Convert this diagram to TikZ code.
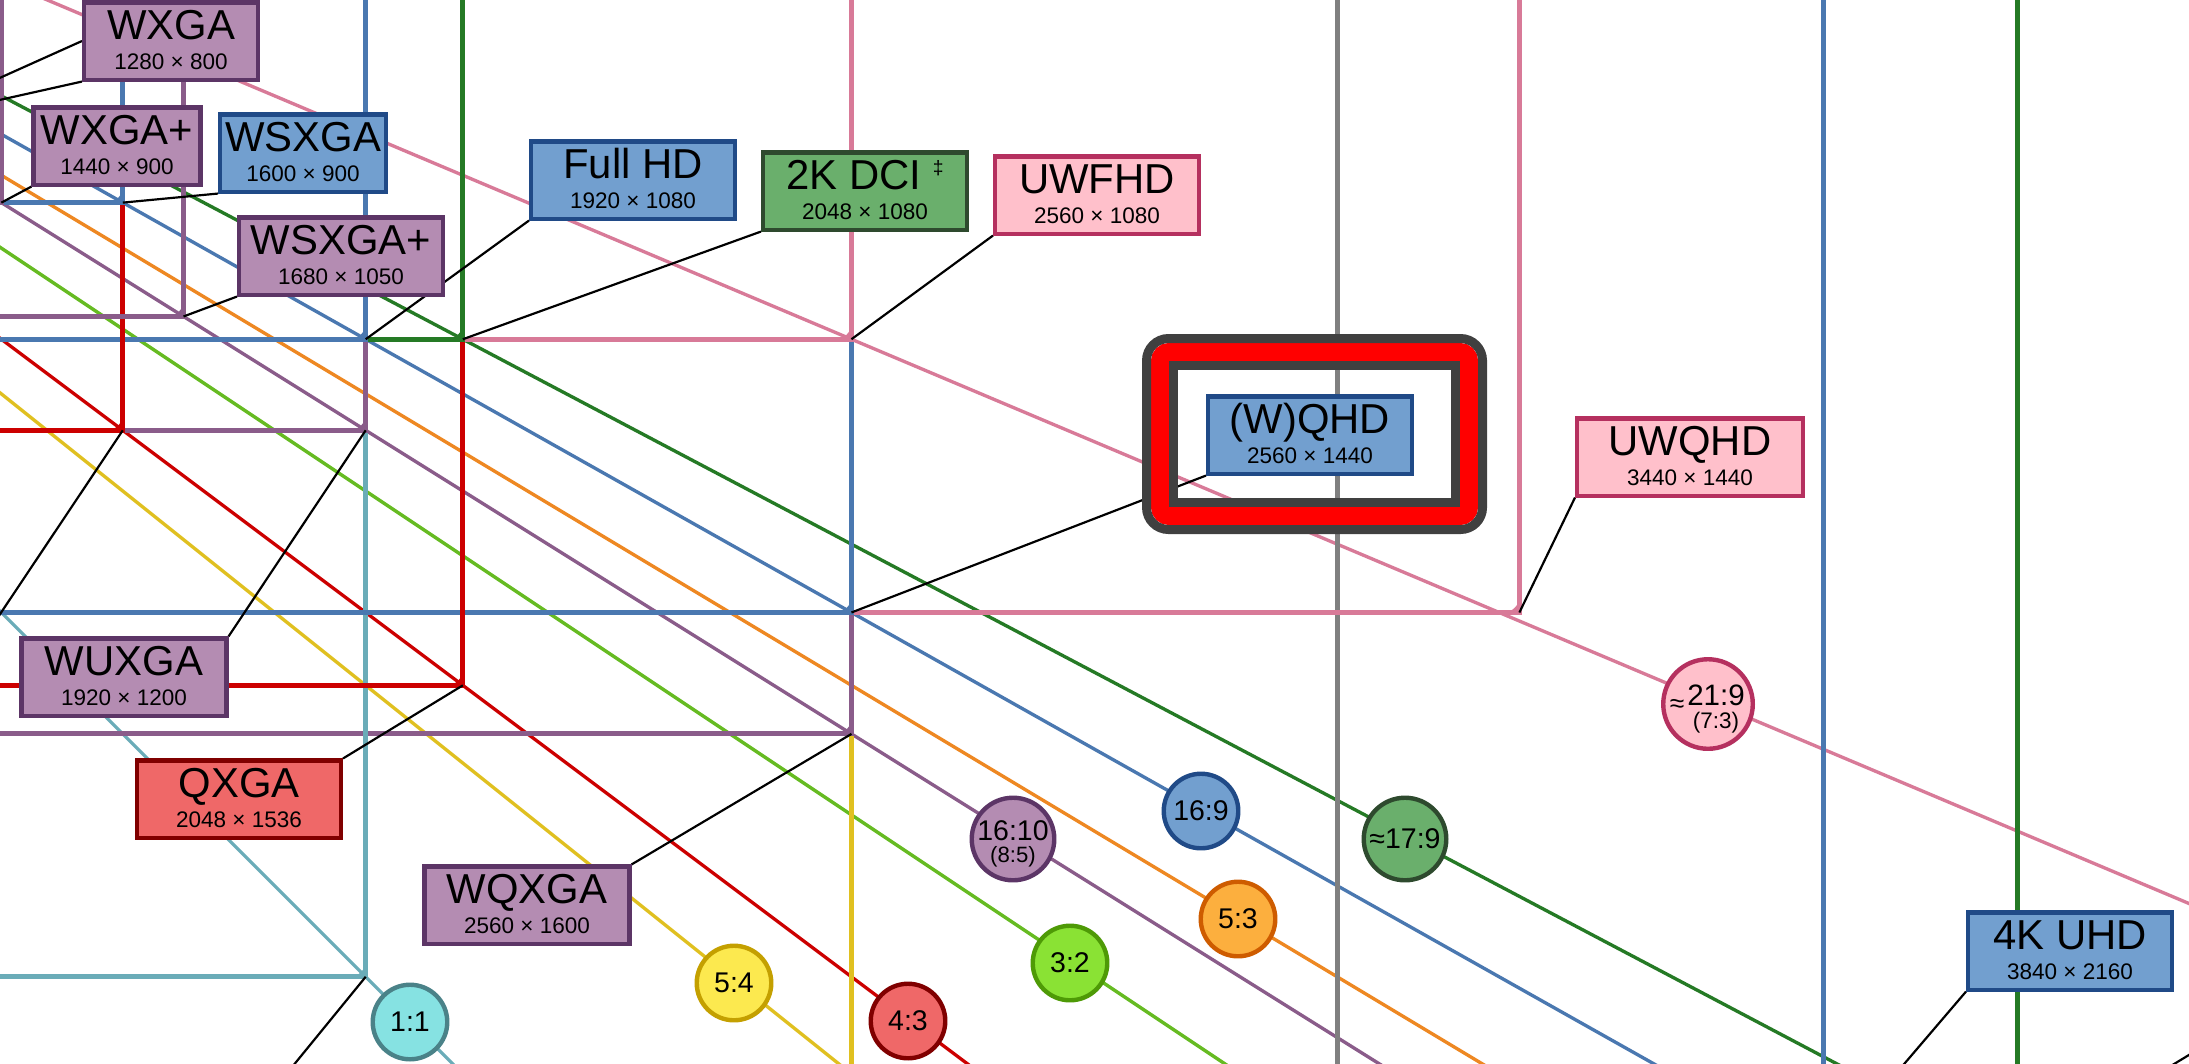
\documentclass[tikz,border=0pt]{standalone}
\usepackage{fontspec}
\setmainfont{Liberation Sans}
\pgfdeclarelayer{bg}
\pgfdeclarelayer{cn}
\pgfsetlayers{bg,cn,main}
\definecolor{fpurple}{HTML}{B48CB2}\definecolor{dpurple}{HTML}{5C3566}
\definecolor{fblue}{HTML}{729FCF}\definecolor{dblue}{HTML}{204A87}
\definecolor{fgreen}{HTML}{6AAF6C}\definecolor{dgreen}{HTML}{2E4A2E}
\definecolor{fpink}{HTML}{FFC0CB}\definecolor{dpink}{HTML}{B5305F}
\definecolor{fred}{HTML}{EF6868}\definecolor{dred}{HTML}{800000}
\definecolor{fteal}{HTML}{86E2E2}\definecolor{dteal}{HTML}{4A8288}
\definecolor{fyellow}{HTML}{FCE94F}\definecolor{dyellow}{HTML}{C4A000}
\definecolor{flgreen}{HTML}{8AE234}\definecolor{dlgreen}{HTML}{4E9A06}
\definecolor{forange}{HTML}{FCAF3E}\definecolor{dorange}{HTML}{CE5C00}
\definecolor{lpurple}{HTML}{8A5C8A}\definecolor{lblue}{HTML}{4A78B0}
\definecolor{ldgreen}{HTML}{257A25}\definecolor{lpink}{HTML}{D87A98}
\definecolor{lred}{HTML}{CC0000}\definecolor{lteal}{HTML}{6AACB8}
\definecolor{lyellow}{HTML}{E0C020}\definecolor{llgreen}{HTML}{66BB22}
\definecolor{lorange}{HTML}{EE8822}\definecolor{lgray}{HTML}{808080}
\definecolor{hgray}{HTML}{404040}\definecolor{hred}{HTML}{FF0000}
\newcommand\fs[1]{\fontsize{#1}{#1}\selectfont}
\newcommand\respt[3]{\coordinate (#1) at ({-1091.6+0.759*#2},{-480.5+0.759*#3});}
\newcommand\resrect[3]{%
  \respt{r#1x#2}{#1}{#2}
  \draw[edge,#3] (r#1x#2 |- T) -- (r#1x#2) -- (L |- r#1x#2);
  \fill[#3] (r#1x#2) -- ++(-0.16cm,0) arc[start angle=-90,end angle=0,radius=0.16cm] -- cycle;}
\newcommand\ratioline[3]{%
  \coordinate (far#1) at ({-1091.6+0.759*5000},{-480.5+0.759*5000/(#2)});
  \draw[diag,#3] (O) -- (far#1);}
\newcommand\resbox[7]{%
  \node[rbox,#2,minimum width={(#5-4)*0.01cm}] (#1) at (#3,#4) {};
  \node[txt] (#1t) at (#3,#4-2) {\fs{11.9}#6};
  \node[txt] (#1s) at (#3,#4+28) {\fs{6.4}#7};}
\tikzset{
  edge/.style={line width=1.42pt, line join=miter},
  diag/.style={line width=0.95pt},
  conn/.style={line width=0.62pt, black},
  rbox/.style={rectangle, draw, line width=1.15pt, minimum height=0.77cm, inner sep=0pt},
  txt/.style={anchor=base, inner sep=0pt},
  ratiocirc/.style={circle, draw, line width=1.25pt, inner sep=0pt, minimum size=0.745cm},
  bxpurple/.style={fill=fpurple, draw=dpurple},
  bxblue/.style={fill=fblue, draw=dblue},
  bxgreen/.style={fill=fgreen, draw=dgreen},
  bxpink/.style={fill=fpink, draw=dpink},
  bxred/.style={fill=fred, draw=dred},
  cteal/.style={fill=fteal, draw=dteal},
  cyellow/.style={fill=fyellow, draw=dyellow},
  clgreen/.style={fill=flgreen, draw=dlgreen},
  corange/.style={fill=forange, draw=dorange},
}
\begin{document}
\begin{tikzpicture}[x=0.01cm,y=-0.01cm]
\useasboundingbox (0,0) rectangle (2189,1063);
\coordinate (T) at (0,-50);
\coordinate (L) at (-50,0);
\coordinate (O) at (-1091.6,-480.5);
\begin{pgfonlayer}{bg}
\clip (0,0) rectangle (2189,1063);
\fill[white] (0,0) rectangle (2189,1063);
\ratioline{a11}{1}{lteal}
\ratioline{a54}{1.25}{lyellow}
\ratioline{a43}{4/3}{lred}
\ratioline{a32}{1.5}{llgreen}
\ratioline{a1610}{1.6}{lpurple}
\ratioline{a53}{5/3}{lorange}
\ratioline{a169}{16/9}{lblue}
\ratioline{a179}{256/135}{ldgreen}
\ratioline{a219}{64/27}{lpink}
\resrect{4096}{2160}{ldgreen}
\resrect{3840}{2160}{lblue}
\resrect{3200}{2048}{lgray}
\resrect{2560}{2048}{lyellow}
\resrect{3440}{1440}{lpink}
\resrect{2560}{1600}{lpurple}
\resrect{1920}{1920}{lteal}
\resrect{2560}{1440}{lblue}
\resrect{2048}{1536}{lred}
\resrect{2560}{1080}{lpink}
\resrect{1920}{1200}{lpurple}
\resrect{2048}{1080}{ldgreen}
\resrect{1920}{1080}{lblue}
\resrect{1600}{1200}{lred}
\resrect{1680}{1050}{lpurple}
\resrect{1600}{900}{lblue}
\resrect{1440}{900}{lpurple}
\respt{p1366x768}{1366}{768}
\respt{p1280x800}{1280}{800}
\end{pgfonlayer}
\clip (0,0) rectangle (2189,1063);
% boxes
\resbox{wxga}{bxpurple}{171}{41}{178}{WXGA}{1280 × 800}
\resbox{wxgap}{bxpurple}{117}{146}{171}{WXGA+}{1440 × 900}
\resbox{wsxga}{bxblue}{303}{153}{170}{WSXGA}{1600 × 900}
\resbox{wsxgap}{bxpurple}{341}{256}{208}{WSXGA+}{1680 × 1050}
\resbox{fullhd}{bxblue}{633}{180}{208}{Full HD}{1920 × 1080}
\resbox{dci}{bxgreen}{865}{191}{208}{2K DCI \raisebox{4pt}{\fs{5.5}‡}}{2048 × 1080}
\resbox{uwfhd}{bxpink}{1097}{195}{208}{UWFHD}{2560 × 1080}
\resbox{wqhd}{bxblue}{1310}{435}{208}{(W)QHD}{2560 × 1440}
\resbox{uwqhd}{bxpink}{1690}{457}{230}{UWQHD}{3440 × 1440}
\resbox{wuxga}{bxpurple}{124}{677}{209}{WUXGA}{1920 × 1200}
\resbox{qxga}{bxred}{239}{799}{208}{QXGA}{2048 × 1536}
\resbox{wqxga}{bxpurple}{527}{905}{209}{WQXGA}{2560 × 1600}
\resbox{uhd}{bxblue}{2070}{951}{208}{4K UHD}{3840 × 2160}
% connectors
\coordinate (offuxga) at (-60,704);
\coordinate (offsq) at (270,1094);
\coordinate (offdci) at (2240,1024);
\begin{pgfonlayer}{cn}
\clip (0,0) rectangle (2189,1063);
\draw[conn] (wxga.west) -- (p1366x768);
\draw[conn] (wxga.south west) -- (p1280x800);
\draw[conn] (wxgap.south west) -- (r1440x900);
\draw[conn] (wsxga.south west) -- (r1600x900);
\draw[conn] (wsxgap.south west) -- (r1680x1050);
\draw[conn] (fullhd.south west) -- (r1920x1080);
\draw[conn] (dci.south west) -- (r2048x1080);
\draw[conn] (uwfhd.south west) -- (r2560x1080);
\draw[conn] (wqhd.south west) -- (r2560x1440);
\draw[conn] (uwqhd.south west) -- (r3440x1440);
\draw[conn] (wuxga.north east) -- (r1920x1200);
\draw[conn] (qxga.north east) -- (r2048x1536);
\draw[conn] (wqxga.north east) -- (r2560x1600);
\draw[conn] (uhd.south west) -- (r3840x2160);
\draw[conn] (r1600x1200) -- (offuxga);
\draw[conn] (r1920x1920) -- (offsq);
\draw[conn] (r4096x2160) -- (offdci);
\end{pgfonlayer}
% ratio circles
\node[ratiocirc,cteal] (c11) at (410,1022) {};
\node (c11t) at (c11) {\fs{8.1}1:1};
\node[ratiocirc,cyellow] (c54) at (734,983) {};
\node (c54t) at (c54) {\fs{8.1}5:4};
\node[ratiocirc,bxred] (c43) at (908,1021) {};
\node (c43t) at (c43) {\fs{8.1}4:3};
\node[ratiocirc,clgreen] (c32) at (1070,963) {};
\node (c32t) at (c32) {\fs{8.1}3:2};
\node[ratiocirc,corange] (c53) at (1238,919) {};
\node (c53t) at (c53) {\fs{8.1}5:3};
\node[ratiocirc,bxblue] (c169) at (1201,811) {};
\node (c169t) at (c169) {\fs{8.1}16:9};
\node[ratiocirc,bxpurple,minimum size=0.825cm] (c1610) at (1013,839) {};
\node[txt] (c1610t) at (1013,840) {\fs{8.1}16:10};
\node[txt] (c1610s) at (1013,862) {\fs{6.3}(8:5)};
\node[ratiocirc,bxgreen,minimum size=0.825cm] (c179) at (1405,839) {};
\node (c179t) at (c179) {\fs{8.1}≈17:9};
\node[ratiocirc,bxpink,minimum size=0.895cm] (c219) at (1708,704) {};
\node[txt] (c219t) at (1716,705) {\fs{8.4}21:9};
\node[txt] (c219s) at (1716,728) {\fs{6.4}(7:3)};
\node[txt] (c219a) at (1677,712) {\fs{7.5}≈};
% highlight frame
\draw[hred, line width=5.12pt, rounded corners=0.09cm] (1160,352) rectangle (1469,516);
\draw[hgray, line width=2.56pt, rounded corners=0.22cm] (1146.5,338.5) rectangle (1482.5,529.5);
\draw[hgray, line width=2.56pt] (1173.5,365.5) rectangle (1455.5,502.5);
\end{tikzpicture}
\end{document}
